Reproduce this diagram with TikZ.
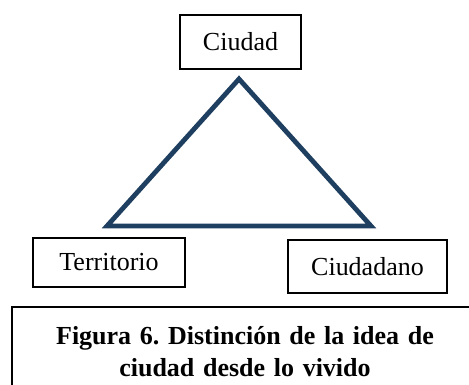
\documentclass[tikz,border=0pt]{standalone}
\usepackage{fontspec}
\setmainfont{Liberation Serif}
\frenchspacing
\begin{document}
\begin{tikzpicture}[x=1pt,y=-1pt,
  lbl/.style={draw=black,line width=1.4pt,inner sep=0pt,font=\fontsize{26}{30}\selectfont},
  tri/.style={draw={rgb,255:red,31;green,63;blue,96},line width=4.8pt,line join=miter}]
\useasboundingbox (0,0) rectangle (469,385);
\node[lbl,minimum width=121pt,minimum height=54pt] (ciudad) at (240.5,42) {Ciudad};
\node[lbl,minimum width=152pt,minimum height=49pt] (terr) at (109,262.5) {Territorio};
\node[lbl,minimum width=159pt,minimum height=53pt] (ciud2) at (367.5,266.5) {Ciudadano};
\node[lbl,minimum width=466pt,minimum height=90pt,text width=440pt,align=center,
  font=\fontsize{26}{32}\selectfont\bfseries] (cap) at (245,352)
  {Figura 6. Distinción de la idea de\\ciudad desde lo vivido};
\coordinate (apex) at (239,79);
\coordinate (bl) at (107,226);
\coordinate (br) at (371,226);
\draw[tri] (apex) -- (bl) -- (br) -- cycle;
\end{tikzpicture}
\end{document}
